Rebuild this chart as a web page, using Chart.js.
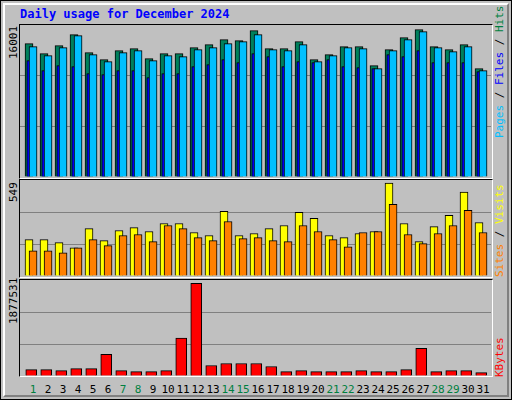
<!DOCTYPE html>
<html><head><meta charset="utf-8">
<script src="https://cdn.jsdelivr.net/npm/chart.js@4"></script>
<style>
body{margin:0;width:512px;height:400px;overflow:hidden;background:#fff;font-family:"DejaVu Sans Mono",monospace}
#frame{position:absolute;left:0;top:0;width:510px;height:398px;border:1px solid #000;background:#c0c0c0}
#bev{position:absolute;left:2px;top:2px;width:502px;height:390px;border-left:2px solid #fff;border-top:2px solid #fff;border-right:2px solid #808080;border-bottom:2px solid #808080}
.panel{position:absolute;left:19px;width:472px;border-top:1px solid #000;border-left:1px solid #000;border-right:1px solid #fff;border-bottom:1px solid #fff}
canvas{position:absolute}
.rot{position:absolute;transform:rotate(-90deg);transform-origin:left top;white-space:nowrap;font-size:11px;line-height:12px}
.day{position:absolute;top:383px;font-size:11px;width:20px;text-align:center}
</style></head><body>
<div id="frame"><div id="bev"></div></div>
<div style="position:absolute;left:20px;top:7px;color:#0000ff;font-weight:bold;font-size:12px">Daily usage for December 2024</div>
<div class="panel" style="top:24px;height:153px"></div>
<div class="panel" style="top:179px;height:97px"></div>
<div class="panel" style="top:279px;height:96px"></div>
<canvas id="c1" style="left:20px;top:25px;width:471px;height:152px"></canvas>
<canvas id="c2" style="left:20px;top:180px;width:471px;height:96px"></canvas>
<canvas id="c3" style="left:20px;top:280px;width:471px;height:96px"></canvas>
<div class="rot" style="left:8px;top:59px">16001</div>
<div class="rot" style="left:8px;top:202px">549</div>
<div class="rot" style="left:8px;top:324px">1877531</div>
<div class="rot" style="left:494px;top:138px"><span style="color:#00c0ff">Pages</span> / <span style="color:#0000ff">Files</span> / <span style="color:#008040">Hits</span></div>
<div class="rot" style="left:494px;top:277px"><span style="color:#ff8000">Sites</span> / <span style="color:#ffff00">Visits</span></div>
<div class="rot" style="left:494px;top:377px"><span style="color:#ff0000">KBytes</span></div>
<div id="days"></div>
<script>
const days=[1,2,3,4,5,6,7,8,9,10,11,12,13,14,15,16,17,18,19,20,21,22,23,24,25,26,27,28,29,30,31];
const weekend=[1,7,8,14,15,21,22,28,29];
const hits=[14480,13394,14263,15457,13503,12742,13720,13937,12851,13394,13394,14046,14371,14914,14806,15892,13937,13937,14697,12742,13285,14154,14154,12091,13828,15132,16001,14154,13828,14371,11765];
const files=[14154,13177,14046,15349,13285,12525,13503,13720,12634,13177,13068,13828,14046,14480,14697,15457,13828,13720,14371,12525,13177,14046,13937,11765,13720,14914,15783,14046,13611,14154,11548];
const pages=[12634,11548,12091,11982,11222,11113,11548,11548,10788,11222,11222,11982,12199,12742,12417,13394,13068,11982,12525,12417,12742,11982,11874,11765,13285,13068,13720,12417,12417,12417,11439];
const visits=[215,215,197,167,280,209,269,286,263,310,310,257,239,382,239,251,280,298,376,340,239,227,251,263,549,310,203,292,358,495,316];
const sites=[149,149,137,167,215,179,239,245,203,298,280,227,209,322,221,227,209,203,298,263,215,173,257,263,424,245,191,251,298,388,257];
const kbytes=[130188,130188,109632,150744,150744,438528,109632,89076,89076,109632,767424,1877531,212412,253524,253524,253524,191856,89076,109632,89076,89076,89076,109632,89076,89076,130188,561864,89076,109632,109632,68520];

const dd=document.getElementById('days');
days.forEach((d,i)=>{const s=document.createElement('div');s.className='day';s.style.left=(23+15*i)+'px';s.style.color=weekend.includes(d)?'#008040':'#000';s.textContent=d;dd.appendChild(s);});

function ds(vals,off,color,w,order){return{data:vals.map((v,i)=>({x:i+off,y:v})),backgroundColor:color,borderColor:'#000',borderWidth:1,barThickness:w,grouped:false,order:order};}
function make(id,sets,max){
  new Chart(document.getElementById(id),{type:'bar',data:{datasets:sets},
  options:{responsive:false,animation:false,events:[],layout:{padding:0},
   plugins:{legend:{display:false},tooltip:{enabled:false}},
   scales:{x:{type:'linear',min:0,max:31.4,offset:false,display:false},
     y:{min:0,max:max,ticks:{display:false,stepSize:max/3},border:{display:false},
        grid:{drawTicks:false,color:c=>(c.index>0&&c.index<3)?'#808080':'rgba(0,0,0,0)'}}}}});
}
['c1','c2','c3'].forEach(id=>{const c=document.getElementById(id);c.width=parseInt(c.style.width);c.height=parseInt(c.style.height);});
make('c1',[ds(hits,0.6,'#00805c',8,3),ds(pages,0.55,'#0000ff',3,2),ds(files,0.87,'#00c0ff',8,1)],16500);
make('c2',[ds(visits,0.6,'#ffff00',8,2),ds(sites,0.87,'#ff8000',8,1)],567);
make('c3',[ds(kbytes,0.75,'#ff0000',11,1)],1947500);
</script></body></html>
